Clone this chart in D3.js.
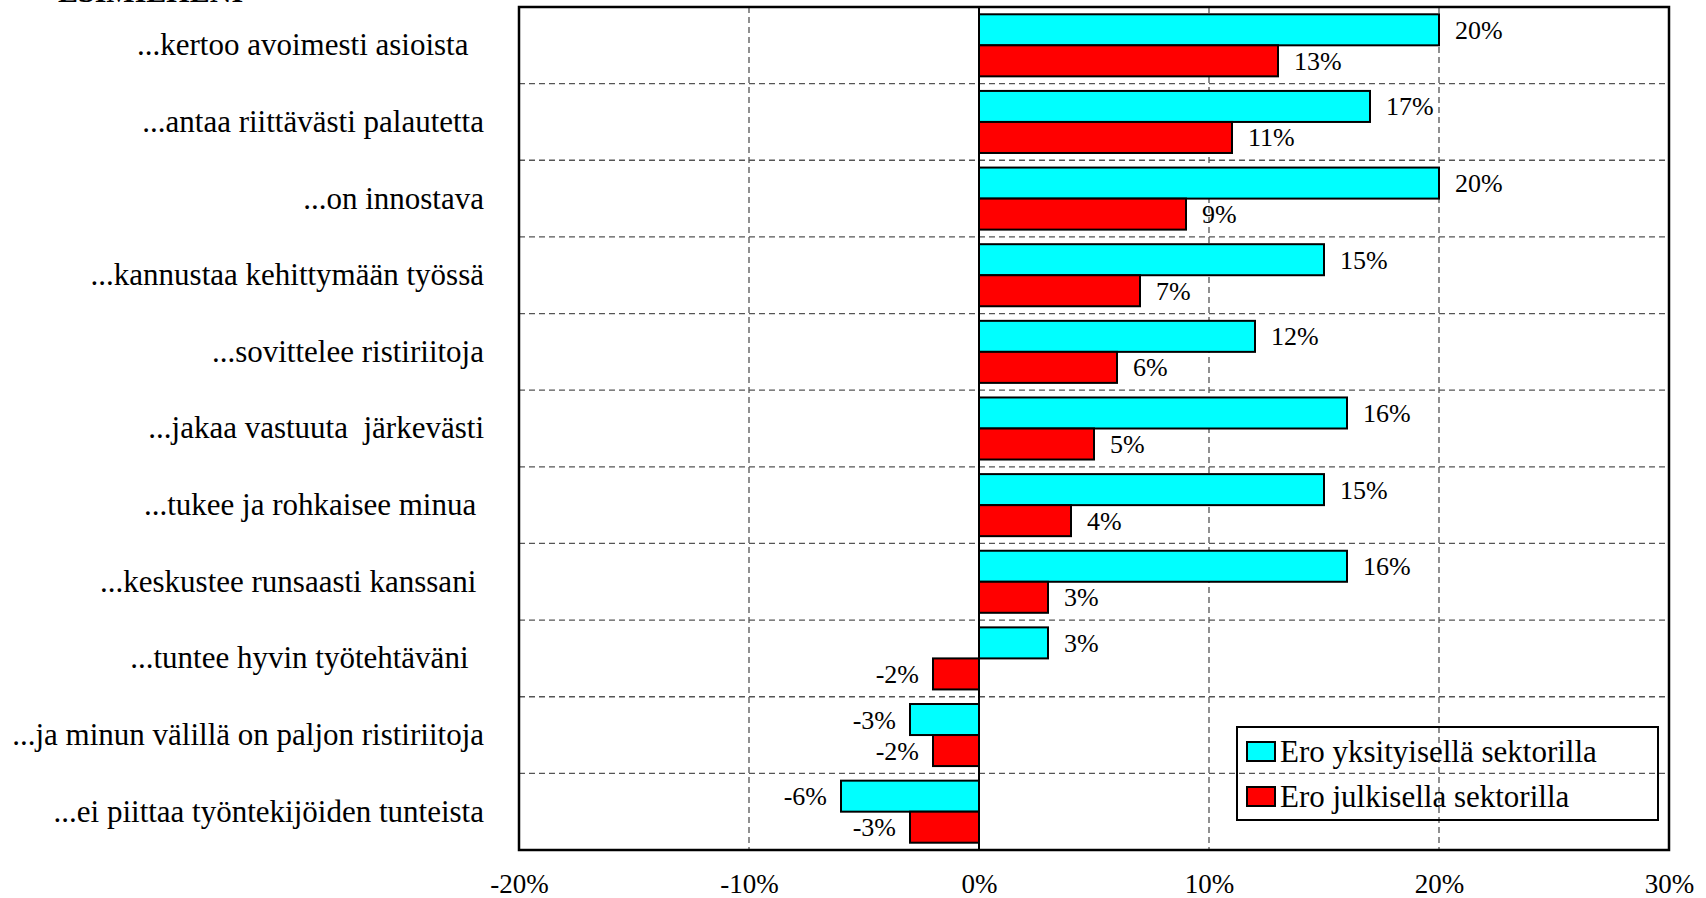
<!DOCTYPE html>
<html lang="fi">
<head>
    <meta charset="UTF-8">
    <title>Ero sektoreittain</title>
    <script src="https://d3js.org/d3.v7.min.js"></script>
    <style>
        body { margin: 0; background: #fff; }
        svg text { font-family: "Liberation Serif", "Times New Roman", serif; fill: #000; white-space: pre; }
    </style>
</head>
<body>
    <div id="chart"></div>

    <script>
        // väittämät (ylhäältä alas)
        const categories = [
            "...kertoo avoimesti asioista  ",
            "...antaa riittävästi palautetta",
            "...on innostava",
            "...kannustaa kehittymään työssä",
            "...sovittelee ristiriitoja",
            "...jakaa vastuuta  järkevästi",
            "...tukee ja rohkaisee minua ",
            "...keskustee runsaasti kanssani ",
            "...tuntee hyvin työtehtäväni  ",
            "...ja minun välillä on paljon ristiriitoja",
            "...ei piittaa työntekijöiden tunteista"
        ];
        const seriesNames = ["Ero yksityisellä sektorilla", "Ero julkisella sektorilla"];
        const seriesColors = ["#00ffff", "#ff0000"];
        const privateValues = [20, 17, 20, 15, 12, 16, 15, 16, 3, -3, -6];
        const publicValues = [13, 11, 9, 7, 6, 5, 4, 3, -2, -2, -3];
        const xTicks = [-20, -10, 0, 10, 20, 30];

        const W = 1706, H = 898;
        const mLeft = 519, mRight = 1669, mTop = 7, mBottom = 850;
        const serif = "'Liberation Serif', 'Times New Roman', serif";

        const svg = d3.select("#chart").append("svg")
            .attr("width", W).attr("height", H);

        const x = d3.scaleLinear().domain([-20, 30]).range([mLeft, mRight]);
        const y = d3.scaleBand().domain(categories).range([mTop, mBottom]);
        const ySub = d3.scaleBand().domain(seriesNames).range([0, y.bandwidth()])
            .paddingInner(0).paddingOuter(0.235);

        // otsikko (leikkautuu kuvan yläreunaan)
        svg.append("text").attr("x", 58).attr("y", 2)
            .style("font-size", "30px").style("font-weight", "bold")
            .text("ESIMIEHENI");

        // vaakasuorat apuviivat rivien välissä
        svg.append("g").selectAll("line")
            .data(categories.slice(1))
            .join("line")
            .attr("x1", mLeft).attr("x2", mRight)
            .attr("y1", d => y(d)).attr("y2", d => y(d))
            .attr("stroke", "#555").attr("stroke-width", 1.3)
            .attr("stroke-dasharray", "6,4");

        // pystysuorat apuviivat
        svg.append("g").selectAll("line")
            .data(xTicks.filter(t => t !== 0 && t > -20 && t < 30))
            .join("line")
            .attr("x1", d => x(d)).attr("x2", d => x(d))
            .attr("y1", mTop).attr("y2", mBottom)
            .attr("stroke", "#555").attr("stroke-width", 1.3)
            .attr("stroke-dasharray", "6,4");

        // nollaviiva
        svg.append("line")
            .attr("x1", x(0)).attr("x2", x(0))
            .attr("y1", mTop).attr("y2", mBottom)
            .attr("stroke", "#000").attr("stroke-width", 2);

        const rows = categories.map((c, i) => ({ cat: c, vals: [privateValues[i], publicValues[i]] }));

        const groups = svg.append("g").selectAll("g")
            .data(rows)
            .join("g")
            .attr("transform", d => `translate(0,${y(d.cat)})`);

        const bars = groups.selectAll("g")
            .data(d => d.vals.map((v, j) => ({ name: seriesNames[j], v, color: seriesColors[j] })))
            .join("g");

        bars.append("rect")
            .attr("x", d => x(Math.min(0, d.v)))
            .attr("y", d => ySub(d.name))
            .attr("width", d => Math.abs(x(d.v) - x(0)))
            .attr("height", ySub.bandwidth())
            .attr("fill", d => d.color)
            .attr("stroke", "#000").attr("stroke-width", 2);

        bars.append("text")
            .attr("x", d => d.v >= 0 ? x(d.v) + 16 : x(d.v) - 14)
            .attr("y", d => ySub(d.name) + ySub.bandwidth() / 2 + 9)
            .attr("text-anchor", d => d.v >= 0 ? "start" : "end")
            .style("font-size", "26px")
            .text(d => d.v + "%");

        // kehys
        svg.append("rect")
            .attr("x", mLeft).attr("y", mTop)
            .attr("width", mRight - mLeft).attr("height", mBottom - mTop)
            .attr("fill", "none").attr("stroke", "#000").attr("stroke-width", 2.5);

        // x-akseli
        const xAxis = svg.append("g")
            .attr("transform", `translate(0,${mBottom})`)
            .call(d3.axisBottom(x).tickValues(xTicks).tickSize(0).tickPadding(24).tickFormat(d => d + "%"));
        xAxis.attr("font-family", serif);
        xAxis.select(".domain").remove();
        xAxis.selectAll("text").style("font-size", "27px").style("font-family", serif);

        // y-akseli (luokkanimet)
        const yAxis = svg.append("g")
            .attr("transform", `translate(${mLeft},0)`)
            .call(d3.axisLeft(y).tickSize(0).tickPadding(35));
        yAxis.attr("font-family", serif);
        yAxis.select(".domain").remove();
        yAxis.selectAll("text").style("font-size", "31px").style("font-family", serif);

        // selite
        const legend = svg.append("g");
        legend.append("rect")
            .attr("x", 1237).attr("y", 727).attr("width", 421).attr("height", 93)
            .attr("fill", "none").attr("stroke", "#000").attr("stroke-width", 2);
        const li = legend.selectAll("g")
            .data(seriesNames)
            .join("g")
            .attr("transform", (d, i) => `translate(1247,${742 + i * 45})`);
        li.append("rect")
            .attr("width", 28).attr("height", 19)
            .attr("fill", (d, i) => seriesColors[i])
            .attr("stroke", "#000").attr("stroke-width", 2);
        li.append("text")
            .attr("x", 33).attr("y", 20)
            .style("font-size", "31px")
            .text(d => d);
    </script>
</body>
</html>
